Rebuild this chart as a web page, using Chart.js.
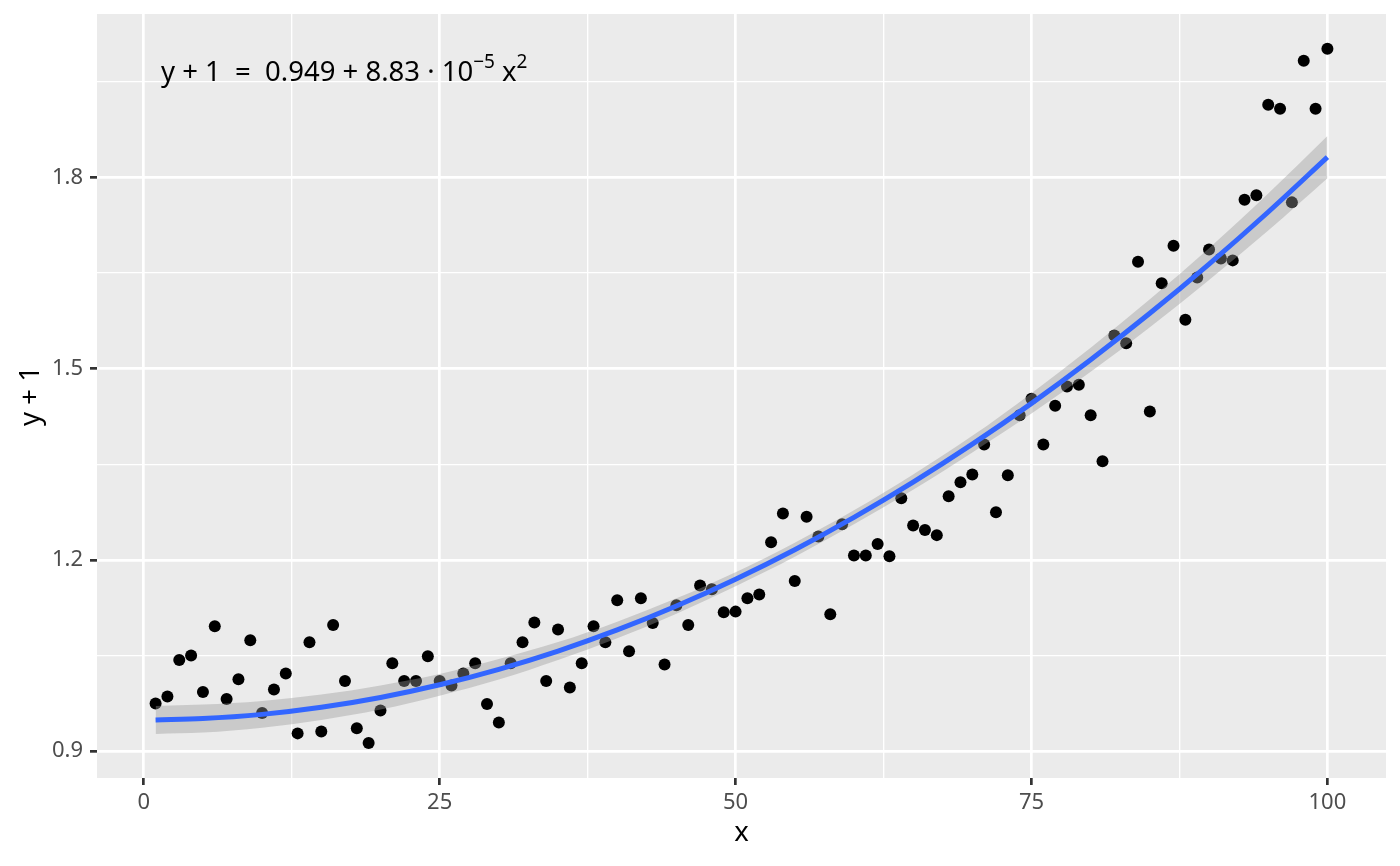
<!DOCTYPE html>
<html>
<head>
<meta charset="utf-8">
<script src="https://cdn.jsdelivr.net/npm/chart.js@4.4.0/dist/chart.umd.min.js"></script>
<style>
  html, body { margin: 0; padding: 0; background: #ffffff; }
  #wrap { position: relative; width: 1400px; height: 866px; }
  #eq { position: absolute; left: 161px; top: 57px; font-family: "Noto Sans", sans-serif; font-size: 27.5px; color: #000; white-space: pre; line-height: 1; }
  #eq sup { font-size: 19px; position: relative; top: -3px; vertical-align: super; line-height: 0; }
</style>
</head>
<body>
<div id="wrap">
  <canvas id="c" width="1400" height="866"></canvas>
  <div id="eq">y + 1  =  0.949 + 8.83 · 10<sup>−5</sup> x<sup>2</sup></div>
</div>
<script>
// ---- data ----
const xValues = [1,2,3,4,5,6,7,8,9,10,11,12,13,14,15,16,17,18,19,20,21,22,23,24,25,26,27,28,29,30,31,32,33,34,35,36,37,38,39,40,41,42,43,44,45,46,47,48,49,50,51,52,53,54,55,56,57,58,59,60,61,62,63,64,65,66,67,68,69,70,71,72,73,74,75,76,77,78,79,80,81,82,83,84,85,86,87,88,89,90,91,92,93,94,95,96,97,98,99,100];
const yValues = [0.975,0.986,1.043,1.050,0.993,1.096,0.982,1.013,1.074,0.960,
                 0.997,1.022,0.928,1.071,0.931,1.098,1.010,0.936,0.913,0.964,
                 1.038,1.010,1.010,1.049,1.010,1.003,1.022,1.038,0.974,0.945,
                 1.038,1.071,1.102,1.010,1.091,1.000,1.038,1.096,1.071,1.137,
                 1.057,1.140,1.101,1.036,1.129,1.098,1.160,1.154,1.118,1.119,
                 1.140,1.146,1.228,1.273,1.167,1.268,1.237,1.115,1.256,1.207,
                 1.207,1.225,1.206,1.297,1.254,1.247,1.239,1.300,1.322,1.334,
                 1.381,1.275,1.333,1.427,1.453,1.381,1.442,1.472,1.475,1.427,
                 1.355,1.552,1.540,1.668,1.433,1.634,1.693,1.577,1.643,1.687,
                 1.673,1.670,1.765,1.772,1.914,1.908,1.761,1.983,1.908,2.002];
const fitX = [1,5,10,15,20,25,30,35,40,45,50,55,60,65,70,75,80,85,90,95,100];
const fitY = [0.9491,0.9512,0.9578,0.9689,0.9843,1.0042,1.0285,1.0572,1.0903,1.1278,1.1698,1.2161,1.2669,1.3221,1.3817,1.4457,1.5141,1.5870,1.6642,1.7459,1.8320];
const bandHalf = [0.022,0.022,0.021,0.020,0.019,0.017,0.016,0.014,0.013,0.012,0.011,0.011,0.011,0.012,0.013,0.016,0.019,0.022,0.025,0.029,0.033];
const xTicksMajor = [0,25,50,75,100];
const xTicksMinor = [12.5,37.5,62.5,87.5];
const yTicksMajor = [0.9,1.2,1.5,1.8];
const yTicksMinor = [1.05,1.35,1.65,1.95];
const xTitle = "x";
const yTitle = "y + 1";

// ---- build ----
const points = xValues.map((x,i)=>({x:x, y:yValues[i]}));
const fitLine = fitX.map((x,i)=>({x:x, y:fitY[i]}));
const upper = fitX.map((x,i)=>({x:x, y:fitY[i]+bandHalf[i]}));
const lower = fitX.map((x,i)=>({x:x, y:fitY[i]-bandHalf[i]}));

const isMajor = (arr, v) => arr.some(m => Math.abs(m - v) < 1e-6);

const panelBg = {
  id: 'panelBg',
  beforeDraw(chart) {
    const a = chart.chartArea, ctx = chart.ctx;
    ctx.save();
    ctx.fillStyle = '#EBEBEB';
    ctx.fillRect(a.left, a.top, a.right - a.left, a.bottom - a.top);
    ctx.restore();
  }
};

Chart.defaults.font.family = '"Noto Sans", sans-serif';

new Chart(document.getElementById('c'), {
  type: 'line',
  data: {
    datasets: [
      { label: 'fit', data: fitLine, borderColor: '#3366FF', borderWidth: 5, pointRadius: 0,
        tension: 0.4, cubicInterpolationMode: 'monotone', fill: false, order: 0 },
      { label: 'upper', data: upper, borderWidth: 0, borderColor: 'rgba(0,0,0,0)', pointRadius: 0,
        cubicInterpolationMode: 'monotone', fill: false, order: 1 },
      { label: 'lower', data: lower, borderWidth: 0, borderColor: 'rgba(0,0,0,0)', pointRadius: 0,
        cubicInterpolationMode: 'monotone', fill: 1, backgroundColor: 'rgba(153,153,153,0.4)', order: 1 },
      { label: 'points', data: points, showLine: false, pointRadius: 6, pointBorderWidth: 0,
        pointBackgroundColor: '#000000', borderColor: '#000000', order: 2 }
    ]
  },
  options: {
    responsive: false,
    devicePixelRatio: 1,
    animation: false,
    events: [],
    layout: { padding: { top: 14, right: 14, left: 0, bottom: 0 } },
    plugins: { legend: { display: false }, tooltip: { enabled: false } },
    scales: {
      x: {
        type: 'linear', min: -3.95, max: 104.95,
        afterBuildTicks(scale) { scale.ticks = xTicksMajor.concat(xTicksMinor).sort((a,b)=>a-b).map(v=>({value:v})); },
        afterFit(scale) { scale.height = 88; scale.paddingLeft = 0; scale.paddingRight = 0; scale.paddingTop = 0; scale.paddingBottom = 0; },
        border: { display: false },
        grid: {
          color: '#FFFFFF',
          lineWidth: (c) => isMajor(xTicksMajor, c.tick.value) ? 2.7 : 1.35,
          tickColor: (c) => isMajor(xTicksMajor, c.tick.value) ? '#333333' : 'rgba(0,0,0,0)',
          tickLength: 7,
          tickWidth: 2.7
        },
        ticks: {
          autoSkip: false, maxRotation: 0,
          color: '#4D4D4D', font: { size: 22 }, padding: 5,
          callback: (v) => isMajor(xTicksMajor, v) ? String(v) : ''
        },
        title: { display: true, text: xTitle, color: '#000000', font: { size: 27.5 }, padding: { top: 0, bottom: 16 } }
      },
      y: {
        type: 'linear', min: 0.858, max: 2.0565,
        afterBuildTicks(scale) { scale.ticks = yTicksMajor.concat(yTicksMinor).sort((a,b)=>a-b).map(v=>({value:v})); },
        afterFit(scale) { scale.width = 97; scale.paddingLeft = 0; scale.paddingRight = 0; scale.paddingTop = 0; scale.paddingBottom = 0; },
        border: { display: false },
        grid: {
          color: '#FFFFFF',
          lineWidth: (c) => isMajor(yTicksMajor, c.tick.value) ? 2.7 : 1.35,
          tickColor: (c) => isMajor(yTicksMajor, c.tick.value) ? '#333333' : 'rgba(0,0,0,0)',
          tickLength: 7,
          tickWidth: 2.7
        },
        ticks: {
          autoSkip: false,
          color: '#4D4D4D', font: { size: 22 }, padding: 7,
          callback: (v) => isMajor(yTicksMajor, v) ? v.toFixed(1) : ''
        },
        title: { display: true, text: yTitle, color: '#000000', font: { size: 27.5 }, padding: { top: 15, bottom: 0 } }
      }
    }
  },
  plugins: [panelBg]
});
</script>
</body>
</html>
